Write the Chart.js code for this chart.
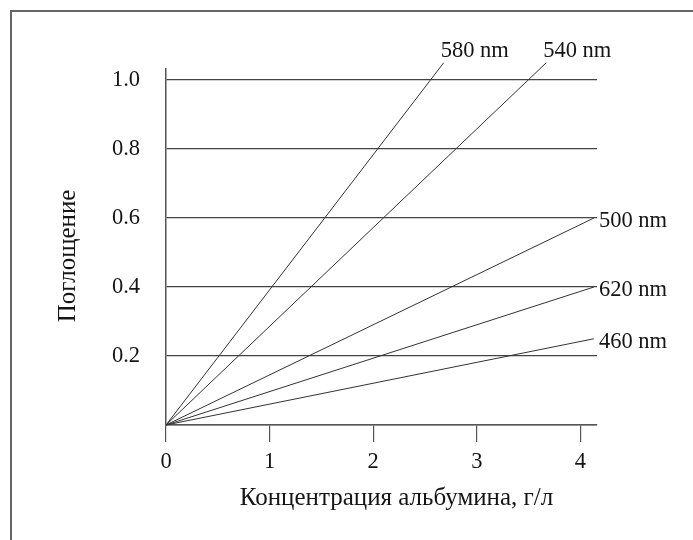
<!DOCTYPE html>
<html><head><meta charset="utf-8">
<script src="https://cdn.jsdelivr.net/npm/chart.js@4.4.1/dist/chart.umd.min.js"></script>
<style>html,body{margin:0;padding:0;background:#fff}#wrap{width:693px;height:540px}</style>
</head><body><div id="wrap"><canvas id="c" width="693" height="540"></canvas></div>
<script>
// Absorbance vs. albumin concentration at several wavelengths
const wavelengths = ['580 nm', '540 nm', '500 nm', '620 nm', '460 nm'];
const endConcentration = [2.68, 3.67, 4.13, 4.13, 4.13];
const endAbsorbance = [1.05, 1.05, 0.60, 0.40, 0.25];
const xTickValues = [0, 1, 2, 3, 4];
const yTickValues = [0, 0.2, 0.4, 0.6, 0.8, 1.0];
const xTitle = 'Концентрация альбумина, г/л';
const yTitle = 'Поглощение';

const FONT = "'Liberation Serif', 'Times New Roman', serif";
const INK = '#151515';

const datasets = wavelengths.map((w, i) => ({
  label: w,
  data: [{x: 0, y: 0}, {x: endConcentration[i], y: endAbsorbance[i]}],
  showLine: true,
  borderColor: '#333',
  borderWidth: 1,
  pointRadius: 0,
  clip: false,
  fill: false
}));

// Wavelength labels at the free end of each line, plus the axis titles and page frame
const annotate = {
  id: 'annotate',
  afterDatasetsDraw(chart) {
    const ctx = chart.ctx;
    const area = chart.chartArea;
    ctx.save();
    ctx.fillStyle = INK;
    ctx.font = '22.5px ' + FONT;
    chart.data.datasets.forEach((ds, i) => {
      const pts = chart.getDatasetMeta(i).data;
      const end = pts[pts.length - 1];
      ctx.textAlign = 'left';
      if (end.y < area.top) {
        ctx.textBaseline = 'alphabetic';
        ctx.fillText(ds.label, end.x - 3, end.y - 6);
      } else {
        ctx.textBaseline = 'middle';
        ctx.fillText(ds.label, end.x + 5, end.y + 3);
      }
    });
    // axis titles
    ctx.font = '25px ' + FONT;
    ctx.textAlign = 'center';
    ctx.textBaseline = 'middle';
    ctx.fillText(xTitle, (area.left + area.right) / 2 + 15, 498);
    ctx.translate(68, (area.top + area.bottom) / 2 + 9);
    ctx.rotate(-Math.PI / 2);
    ctx.fillText(yTitle, 0, 0);
    ctx.restore();

    // frame along the top and left edges
    ctx.save();
    ctx.strokeStyle = '#666';
    ctx.lineWidth = 2;
    ctx.beginPath();
    ctx.moveTo(11, 540);
    ctx.lineTo(11, 11);
    ctx.lineTo(693, 11);
    ctx.stroke();
    ctx.restore();
  }
};

new Chart(document.getElementById('c'), {
  type: 'scatter',
  data: { datasets },
  plugins: [annotate],
  options: {
    responsive: false,
    animation: false,
    devicePixelRatio: 1,
    layout: { padding: { left: 0, top: 69, right: 96, bottom: 0 } },
    plugins: { legend: { display: false }, tooltip: { enabled: false } },
    scales: {
      x: {
        type: 'linear',
        min: 0,
        max: 4.16,
        afterFit(s) { s.height = 115; },
        afterBuildTicks(s) { s.ticks = xTickValues.map(v => ({ value: v })); },
        grid: { drawOnChartArea: false, drawTicks: true, tickLength: 17, color: '#555', lineWidth: 1.2 },
        border: { display: true, color: '#555', width: 1.5 },
        ticks: {
          color: INK,
          font: { family: FONT, size: 22.5 },
          padding: 7,
          maxRotation: 0,
          callback: v => String(v)
        }
      },
      y: {
        type: 'linear',
        min: 0,
        max: 1.032,
        afterFit(s) { s.width = 166; },
        afterBuildTicks(s) { s.ticks = yTickValues.map(v => ({ value: v })); },
        grid: { drawOnChartArea: true, drawTicks: false, color: '#444', lineWidth: 1.2 },
        border: { display: true, color: '#555', width: 1.5 },
        ticks: {
          color: INK,
          font: { family: FONT, size: 22.5 },
          padding: 26,
          callback: v => (v === 0 ? '' : v.toFixed(1))
        }
      }
    }
  }
});
</script></body></html>
